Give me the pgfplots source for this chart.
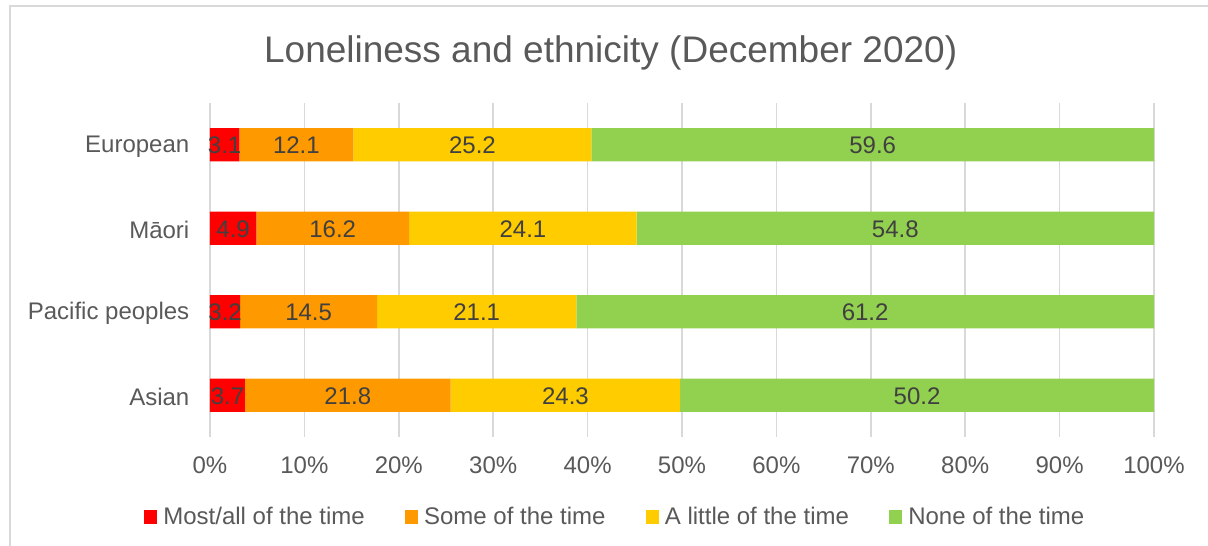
\documentclass[border=0pt]{standalone}
\usepackage{pgfplots}
\usepackage{pgfplotstable}
\pgfplotsset{compat=1.18}
\usepackage{fontspec}
\setmainfont{Liberation Sans}
\definecolor{cRed}{HTML}{FF0000}
\definecolor{cOrange}{HTML}{FF9900}
\definecolor{cYellow}{HTML}{FFCC00}
\definecolor{cGreen}{HTML}{92D050}
\definecolor{textgray}{HTML}{595959}
\definecolor{labelgray}{HTML}{404040}
\definecolor{gridgray}{HTML}{D9D9D9}
% y: 0 Asian, 1 Pacific peoples, 2 Maori, 3 European
\pgfplotstableread{
y a b c d
0 3.7 21.8 24.3 50.2
1 3.2 14.5 21.1 61.2
2 4.9 16.2 24.1 54.8
3 3.1 12.1 25.2 59.6
}\data
\begin{document}
\begin{tikzpicture}
\path[use as bounding box] (0,0) rectangle (906pt,409.5pt);
\draw[gridgray, line width=1.2pt] (7.5pt,0) -- (7.5pt,405pt) -- (906pt,405pt);
\node[text=textgray, font=\fontsize{27.75}{33}\selectfont] at (458pt,370pt) {Loneliness and ethnicity (December 2020)};
\begin{axis}[
  at={(157.5pt,81.75pt)}, anchor=south west, scale only axis,
  width=708pt, height=250.5pt,
  xbar stacked, bar width=0.4,
  xmin=0, xmax=100, ymin=-0.5, ymax=3.5,
  xtick={0,10,...,100},
  xticklabels={0\%,10\%,20\%,30\%,40\%,50\%,60\%,70\%,80\%,90\%,100\%},
  ytick={0,1,2,3},
  yticklabels={Asian,Pacific peoples,Māori,European},
  tick label style={font=\fontsize{18}{21}\selectfont, text=textgray},
  xticklabel style={yshift=-11pt},
  yticklabel style={xshift=-12pt, yshift=-1.5pt},
  major tick length=0pt,
  axis line style={draw=none},
  xmajorgrids, grid style={gridgray, line width=1.2pt},
  legend columns=4,
  legend style={draw=none, fill=none, at={(0.4296,-0.2395)}, anchor=center,
    font=\fontsize{18}{21}\selectfont, text=textgray,
    /tikz/every odd column/.append style={column sep=2.5pt},
    /tikz/every even column/.append style={column sep=28pt},
    legend cell align=left},
  legend image code/.code={\fill[#1] (0pt,-5pt) rectangle (10pt,5pt);},
]
\addplot[draw=none, fill=cRed] table[x=a, y=y] {\data};
\addplot[draw=none, fill=cOrange] table[x=b, y=y] {\data};
\addplot[draw=none, fill=cYellow] table[x=c, y=y] {\data};
\addplot[draw=none, fill=cGreen] table[x=d, y=y] {\data};
\legend{Most/all of the time, Some of the time, A little of the time, None of the time}
\end{axis}
\begin{axis}[
  at={(157.5pt,81.75pt)}, anchor=south west, scale only axis,
  width=708pt, height=250.5pt,
  xmin=0, xmax=100, ymin=-0.5, ymax=3.5,
  hide axis,
  every node near coord/.append style={anchor=center, font=\fontsize{18}{21}\selectfont, text=labelgray, yshift=-0.5pt},
]
\addplot[draw=none, mark=none, nodes near coords, point meta=explicit symbolic] table[x expr=\thisrow{a}/2, y=y, meta=a] {\data};
\addplot[draw=none, mark=none, nodes near coords, point meta=explicit symbolic] table[x expr=\thisrow{a}+\thisrow{b}/2, y=y, meta=b] {\data};
\addplot[draw=none, mark=none, nodes near coords, point meta=explicit symbolic] table[x expr=\thisrow{a}+\thisrow{b}+\thisrow{c}/2, y=y, meta=c] {\data};
\addplot[draw=none, mark=none, nodes near coords, point meta=explicit symbolic] table[x expr=\thisrow{a}+\thisrow{b}+\thisrow{c}+\thisrow{d}/2, y=y, meta=d] {\data};
\end{axis}
\end{tikzpicture}
\end{document}
